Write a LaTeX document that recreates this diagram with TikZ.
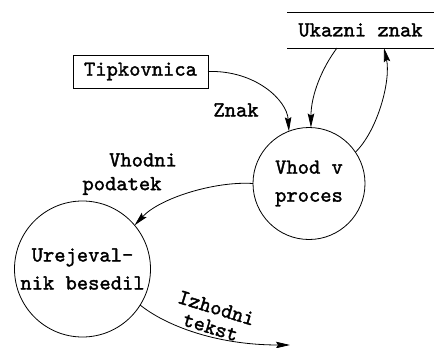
\documentclass[tikz,border=0pt]{standalone}
\usepackage{fontspec}
\newfontfamily\diafont{lmmono10-regular.otf}[FakeBold=1.6]
\usetikzlibrary{arrows.meta,calc}
\begin{document}
\begin{tikzpicture}[x=1pt,y=-1pt,
  lbl/.style={font=\fontsize{21.5}{28}\selectfont\diafont, inner sep=0pt},
  proc/.style={circle, draw, line width=0.8pt, lbl, align=center, outer sep=0pt},
  ext/.style={rectangle, draw, line width=0.8pt, lbl, outer sep=0pt},
  flow/.style={line width=0.8pt, -{Stealth[length=14pt,width=6.5pt,inset=2pt]}}]
\useasboundingbox (0,0) rectangle (434,348);

% external entity and data store
\node[ext, minimum width=135, minimum height=33] (tip) at (140.5,71.5) {Tipkovnica};
\node[lbl, minimum width=147, minimum height=36, outer sep=0pt] (store) at (360.5,30) {Ukazni znak};
\draw[line width=0.8pt] (store.north west) -- (store.north east);
\draw[line width=0.8pt] (store.south west) -- (store.south east);

% processes
\node[proc, minimum size=112] (vhod) at (309,183.5) {Vhod v\\proces};
\node[proc, minimum size=136] (urej) at (82.5,269) {Urejeval-\\nik besedil};

% data flows
\draw[flow] (tip.east) .. controls (255,70) and (287,100) .. (vhod.111);
\draw[flow] ($(store.south west)!0.34!(store.south east)$) .. controls (322,68) and (311,95) .. (vhod.88);
\draw[flow] (vhod.34) .. controls (378,130) and (391,80) .. ($(store.south west)!0.66!(store.south east)$);
\draw[flow] (vhod.180) .. controls (215,181) and (160,198) .. (urej.40);
\coordinate (out) at (290,345);
\draw[flow] (urej.-32) .. controls (165,325) and (215,345) .. (out);

% flow labels
\node[lbl] (znak) at (236,110) {Znak};
\node[lbl] (vh1) at (143,160) {Vhodni};
\node[lbl] (vh2) at (122,186) {podatek};
\node[lbl, align=center, rotate=-17, font=\fontsize{21.5}{20}\selectfont\diafont] (izh) at (213.5,317.5) {Izhodni\\tekst};
\end{tikzpicture}
\end{document}
